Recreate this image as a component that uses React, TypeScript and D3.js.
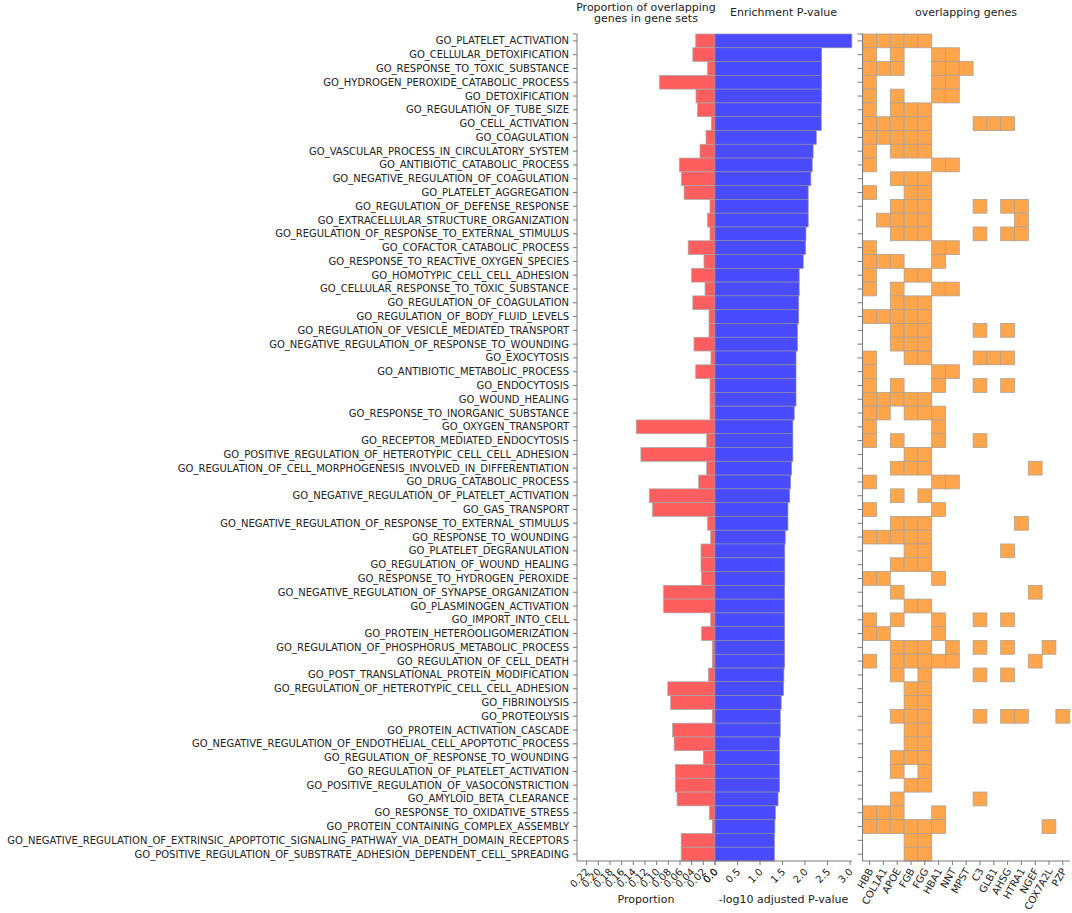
import * as d3 from "d3";

// GO terms, top to bottom
const terms = [
  "GO_PLATELET_ACTIVATION",
  "GO_CELLULAR_DETOXIFICATION",
  "GO_RESPONSE_TO_TOXIC_SUBSTANCE",
  "GO_HYDROGEN_PEROXIDE_CATABOLIC_PROCESS",
  "GO_DETOXIFICATION",
  "GO_REGULATION_OF_TUBE_SIZE",
  "GO_CELL_ACTIVATION",
  "GO_COAGULATION",
  "GO_VASCULAR_PROCESS_IN_CIRCULATORY_SYSTEM",
  "GO_ANTIBIOTIC_CATABOLIC_PROCESS",
  "GO_NEGATIVE_REGULATION_OF_COAGULATION",
  "GO_PLATELET_AGGREGATION",
  "GO_REGULATION_OF_DEFENSE_RESPONSE",
  "GO_EXTRACELLULAR_STRUCTURE_ORGANIZATION",
  "GO_REGULATION_OF_RESPONSE_TO_EXTERNAL_STIMULUS",
  "GO_COFACTOR_CATABOLIC_PROCESS",
  "GO_RESPONSE_TO_REACTIVE_OXYGEN_SPECIES",
  "GO_HOMOTYPIC_CELL_CELL_ADHESION",
  "GO_CELLULAR_RESPONSE_TO_TOXIC_SUBSTANCE",
  "GO_REGULATION_OF_COAGULATION",
  "GO_REGULATION_OF_BODY_FLUID_LEVELS",
  "GO_REGULATION_OF_VESICLE_MEDIATED_TRANSPORT",
  "GO_NEGATIVE_REGULATION_OF_RESPONSE_TO_WOUNDING",
  "GO_EXOCYTOSIS",
  "GO_ANTIBIOTIC_METABOLIC_PROCESS",
  "GO_ENDOCYTOSIS",
  "GO_WOUND_HEALING",
  "GO_RESPONSE_TO_INORGANIC_SUBSTANCE",
  "GO_OXYGEN_TRANSPORT",
  "GO_RECEPTOR_MEDIATED_ENDOCYTOSIS",
  "GO_POSITIVE_REGULATION_OF_HETEROTYPIC_CELL_CELL_ADHESION",
  "GO_REGULATION_OF_CELL_MORPHOGENESIS_INVOLVED_IN_DIFFERENTIATION",
  "GO_DRUG_CATABOLIC_PROCESS",
  "GO_NEGATIVE_REGULATION_OF_PLATELET_ACTIVATION",
  "GO_GAS_TRANSPORT",
  "GO_NEGATIVE_REGULATION_OF_RESPONSE_TO_EXTERNAL_STIMULUS",
  "GO_RESPONSE_TO_WOUNDING",
  "GO_PLATELET_DEGRANULATION",
  "GO_REGULATION_OF_WOUND_HEALING",
  "GO_RESPONSE_TO_HYDROGEN_PEROXIDE",
  "GO_NEGATIVE_REGULATION_OF_SYNAPSE_ORGANIZATION",
  "GO_PLASMINOGEN_ACTIVATION",
  "GO_IMPORT_INTO_CELL",
  "GO_PROTEIN_HETEROOLIGOMERIZATION",
  "GO_REGULATION_OF_PHOSPHORUS_METABOLIC_PROCESS",
  "GO_REGULATION_OF_CELL_DEATH",
  "GO_POST_TRANSLATIONAL_PROTEIN_MODIFICATION",
  "GO_REGULATION_OF_HETEROTYPIC_CELL_CELL_ADHESION",
  "GO_FIBRINOLYSIS",
  "GO_PROTEOLYSIS",
  "GO_PROTEIN_ACTIVATION_CASCADE",
  "GO_NEGATIVE_REGULATION_OF_ENDOTHELIAL_CELL_APOPTOTIC_PROCESS",
  "GO_REGULATION_OF_RESPONSE_TO_WOUNDING",
  "GO_REGULATION_OF_PLATELET_ACTIVATION",
  "GO_POSITIVE_REGULATION_OF_VASOCONSTRICTION",
  "GO_AMYLOID_BETA_CLEARANCE",
  "GO_RESPONSE_TO_OXIDATIVE_STRESS",
  "GO_PROTEIN_CONTAINING_COMPLEX_ASSEMBLY",
  "GO_NEGATIVE_REGULATION_OF_EXTRINSIC_APOPTOTIC_SIGNALING_PATHWAY_VIA_DEATH_DOMAIN_RECEPTORS",
  "GO_POSITIVE_REGULATION_OF_SUBSTRATE_ADHESION_DEPENDENT_CELL_SPREADING",
];

// proportion of overlapping genes in gene set
const proportion = [
  0.033, 0.038, 0.0126, 0.095, 0.0326, 0.03, 0.0063, 0.0154, 0.0257, 0.061,
  0.0577, 0.053, 0.0086, 0.0126, 0.0086, 0.046, 0.0189, 0.04, 0.0171, 0.038,
  0.0103, 0.0103, 0.036, 0.0069, 0.033, 0.0086, 0.0086, 0.0086, 0.135, 0.0143,
  0.127, 0.0143, 0.028, 0.1126, 0.107, 0.0126, 0.0074, 0.024, 0.024, 0.0229,
  0.088, 0.088, 0.0074, 0.0229, 0.0046, 0.0046, 0.0114, 0.081, 0.076, 0.0046,
  0.0726, 0.07, 0.02, 0.068, 0.068, 0.065, 0.0097, 0.0046, 0.058, 0.058,
];

// -log10 adjusted p-value
const logP = [
  3.04, 2.37, 2.37, 2.37, 2.37, 2.36, 2.36, 2.25, 2.18, 2.16,
  2.13, 2.07, 2.07, 2.07, 2.02, 2.01, 1.96, 1.87, 1.87, 1.86,
  1.86, 1.83, 1.83, 1.8, 1.8, 1.8, 1.8, 1.76, 1.73, 1.73,
  1.73, 1.7, 1.68, 1.66, 1.62, 1.62, 1.56, 1.55, 1.55, 1.55,
  1.545, 1.545, 1.545, 1.545, 1.545, 1.545, 1.53, 1.52, 1.47, 1.45,
  1.45, 1.43, 1.43, 1.43, 1.43, 1.4, 1.34, 1.33, 1.32, 1.32,
];

const genes = [
  "HBB", "COL1A1", "APOE", "FGB", "FGG", "HBA1", "NNT", "MPST",
  "C3", "GLB1", "AHSG", "HTRA1", "NGEF", "COX7A2L", "PZP",
];

// overlapping genes per term (same order as terms)
const overlaps = [
  "HBB COL1A1 APOE FGB FGG",
  "HBB APOE HBA1 NNT",
  "HBB COL1A1 APOE HBA1 NNT MPST",
  "HBB HBA1 NNT",
  "HBB APOE HBA1 NNT",
  "HBB APOE FGB FGG",
  "HBB COL1A1 APOE FGB FGG C3 GLB1 AHSG",
  "HBB COL1A1 APOE FGB FGG",
  "HBB APOE FGB FGG",
  "HBB HBA1 NNT",
  "APOE FGB FGG",
  "HBB FGB FGG",
  "APOE FGB FGG C3 AHSG HTRA1",
  "COL1A1 APOE FGB FGG HTRA1",
  "APOE FGB FGG C3 AHSG HTRA1",
  "HBB HBA1 NNT",
  "HBB COL1A1 APOE HBA1",
  "HBB FGB FGG",
  "HBB APOE HBA1 NNT",
  "APOE FGB FGG",
  "HBB COL1A1 APOE FGB FGG",
  "APOE FGB FGG C3 AHSG",
  "APOE FGB FGG",
  "HBB FGB FGG C3 GLB1 AHSG",
  "HBB HBA1 NNT",
  "HBB APOE HBA1 C3 AHSG",
  "HBB COL1A1 APOE FGB FGG",
  "HBB COL1A1 FGB FGG HBA1",
  "HBB HBA1",
  "HBB APOE HBA1 C3",
  "FGB FGG",
  "APOE FGB FGG NGEF",
  "HBB HBA1 NNT",
  "APOE FGG",
  "HBB HBA1",
  "APOE FGB FGG HTRA1",
  "HBB COL1A1 APOE FGB FGG",
  "FGB FGG AHSG",
  "APOE FGB FGG",
  "HBB COL1A1 HBA1",
  "APOE NGEF",
  "FGB FGG",
  "HBB APOE HBA1 C3 AHSG",
  "HBB COL1A1 HBA1",
  "APOE FGB FGG NNT C3 AHSG COX7A2L",
  "HBB APOE FGB FGG HBA1 NNT NGEF",
  "APOE FGG C3 AHSG",
  "FGB FGG",
  "FGB FGG",
  "APOE FGB FGG C3 AHSG HTRA1 PZP",
  "FGB FGG",
  "FGB FGG",
  "APOE FGB FGG",
  "APOE FGG",
  "FGB FGG",
  "APOE C3",
  "HBB COL1A1 APOE HBA1",
  "HBB COL1A1 APOE FGB FGG HBA1 COX7A2L",
  "FGB FGG",
  "FGB FGG",
];

const propTicks = [0.22, 0.2, 0.18, 0.16, 0.14, 0.12, 0.1, 0.08, 0.06, 0.04, 0.02, 0];
const pTicks = [0, 0.5, 1, 1.5, 2, 2.5, 3];

const FONT = "DejaVu Sans";
const AXIS = "#7a7a7a";

export default function App() {
  const top = 34;
  const bottom = 861;
  const zeroX = 715;

  const y = d3.scaleBand<string>().domain(terms).range([top, bottom]).padding(0);
  const xProp = d3.scaleLinear().domain([0, 0.2365]).range([zeroX, 577]);
  const xP = d3.scaleLinear().domain([0, 3.044]).range([zeroX, 852]);
  const xGene = d3.scaleBand<string>().domain(genes).range([862.7, 1069.7]);

  const bw = y.bandwidth();
  const cy = (t: string) => (y(t) as number) + bw / 2;

  const cells = overlaps.flatMap((s, i) =>
    s.split(" ").map((g) => ({ term: terms[i], gene: g }))
  );

  const propFmt = (v: number) => (v === 0 ? "0.0" : v.toFixed(2));
  const pFmt = (v: number) => v.toFixed(1);

  return (
    <div style={{ position: "absolute", left: 0, top: 0 }}>
      <svg width={1072} height={913} fontFamily={FONT} style={{ display: "block" }}>
        <rect width={1072} height={913} fill="#fff" />

        {/* panel titles */}
        <text x={646} y={11} fontSize={11} textAnchor="middle" fill="#222">
          Proportion of overlapping
        </text>
        <text x={646} y={22} fontSize={11} textAnchor="middle" fill="#222">
          genes in gene sets
        </text>
        <text x={783.5} y={16} fontSize={11} textAnchor="middle" fill="#222">
          Enrichment P-value
        </text>
        <text x={966} y={16} fontSize={11} textAnchor="middle" fill="#222">
          overlapping genes
        </text>

        {/* proportion bars */}
        {terms.map((t, i) => (
          <rect
            key={"r" + t}
            x={xProp(proportion[i])}
            y={y(t)}
            width={zeroX - xProp(proportion[i])}
            height={bw}
            fill="#ff5e5e"
            stroke="#a8a8a8"
            strokeWidth={0.7}
          />
        ))}

        {/* p-value bars */}
        {terms.map((t, i) => (
          <rect
            key={"b" + t}
            x={zeroX}
            y={y(t)}
            width={xP(logP[i]) - zeroX}
            height={bw}
            fill="#4a4aff"
            stroke="#8a8aa8"
            strokeWidth={0.7}
          />
        ))}

        {/* left y axis with term labels */}
        <line x1={577} x2={577} y1={top} y2={bottom} stroke={AXIS} />
        <line x1={573} x2={577} y1={top} y2={top} stroke={AXIS} />
        {terms.map((t) => (
          <g key={"l" + t}>
            <line x1={573} x2={577} y1={cy(t)} y2={cy(t)} stroke={AXIS} />
            <text x={569} y={cy(t)} dy="0.35em" fontSize={10} textAnchor="end" fill="#222">
              {t}
            </text>
          </g>
        ))}

        {/* bottom axes: proportion + p-value */}
        <line x1={577} x2={852} y1={bottom} y2={bottom} stroke={AXIS} />
        {propTicks.map((v) => (
          <g key={"pt" + v}>
            <line x1={xProp(v)} x2={xProp(v)} y1={bottom} y2={bottom + 4} stroke={AXIS} />
            <text
              transform={`translate(${xProp(v) + 1},${bottom + 9}) rotate(-45)`}
              dy="0.35em"
              fontSize={10}
              textAnchor="end"
              fill="#222"
            >
              {propFmt(v)}
            </text>
          </g>
        ))}
        {pTicks.map((v) => (
          <g key={"pv" + v}>
            <line x1={xP(v)} x2={xP(v)} y1={bottom} y2={bottom + 4} stroke={AXIS} />
            <text
              transform={`translate(${xP(v) + 1},${bottom + 9}) rotate(-45)`}
              dy="0.35em"
              fontSize={10}
              textAnchor="end"
              fill="#222"
            >
              {pFmt(v)}
            </text>
          </g>
        ))}
        <text x={646} y={903} fontSize={11} textAnchor="middle" fill="#222">
          Proportion
        </text>
        <text x={783.5} y={903} fontSize={11} textAnchor="middle" fill="#222">
          -log10 adjusted P-value
        </text>

        {/* heatmap */}
        {cells.map((c) => (
          <rect
            key={c.term + c.gene}
            x={xGene(c.gene)}
            y={y(c.term)}
            width={xGene.bandwidth()}
            height={bw}
            fill="#ffa64d"
            stroke="#b0a090"
            strokeWidth={0.8}
          />
        ))}
        <line x1={862.5} x2={862.5} y1={top} y2={bottom} stroke={AXIS} />
        <line x1={857.5} x2={862.5} y1={top} y2={top} stroke={AXIS} />
        {terms.map((t) => (
          <line key={"ht" + t} x1={857.5} x2={862.5} y1={cy(t)} y2={cy(t)} stroke={AXIS} />
        ))}
        <line x1={862.5} x2={1070} y1={bottom} y2={bottom} stroke={AXIS} />
        {genes.map((g) => {
          const gx = (xGene(g) as number) + xGene.bandwidth() / 2;
          return (
            <g key={"g" + g}>
              <line x1={gx} x2={gx} y1={bottom} y2={bottom + 4} stroke={AXIS} />
              <text
                transform={`translate(${gx + 1},${bottom + 8}) rotate(-60)`}
                dy="0.35em"
                fontSize={10}
                textAnchor="end"
                fill="#222"
              >
                {g}
              </text>
            </g>
          );
        })}
      </svg>
    </div>
  );
}
